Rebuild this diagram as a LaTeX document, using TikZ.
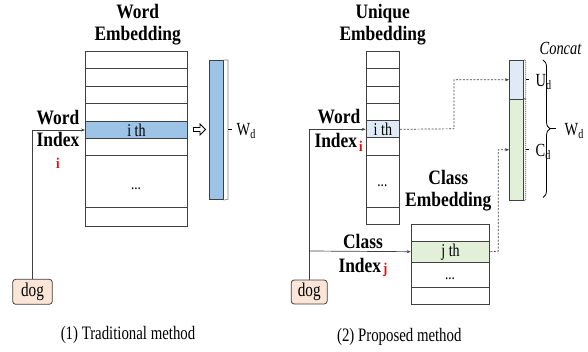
\documentclass[tikz,border=0pt]{standalone}
\usepackage{fontspec}
\setmainfont{Liberation Serif}[FakeStretch=0.85]
\newfontfamily\condreg{Liberation Serif}[FakeStretch=0.78]
\usetikzlibrary{shapes.arrows,decorations.pathreplacing,arrows.meta}
\definecolor{edge}{HTML}{404040}
\definecolor{blueA}{HTML}{9DC3E6}
\definecolor{blueL}{HTML}{DEEBF7}
\definecolor{greenL}{HTML}{E2F0D9}
\definecolor{peach}{HTML}{FBE5D6}
\definecolor{redT}{HTML}{FF0000}
\begin{document}
\begin{tikzpicture}[x=1pt,y=-1pt,
  cell/.style={draw=edge, line width=1pt, inner sep=0pt, anchor=north west, font=\condreg\fontsize{18}{18}\selectfont},
  ttl/.style={font=\bfseries\fontsize{20.5}{22}\selectfont, align=center, inner sep=0pt},
  lbl/.style={font=\condreg\fontsize{18.5}{18.5}\selectfont, inner sep=0pt},
  captxt/.style={font=\condreg\fontsize{19}{19}\selectfont, inner sep=0pt},
  dotstxt/.style={font=\condreg\fontsize{17}{17}\selectfont, inner sep=0pt},
  redidx/.style={font=\bfseries\fontsize{15}{15}\selectfont, text=redT, inner sep=0pt},
  wordbox/.style={draw=edge, line width=0.8pt, fill=peach, rounded corners=3pt, inner sep=0pt, font=\condreg\fontsize{19.5}{19.5}\selectfont},
  conn/.style={draw=edge, line width=0.7pt, -{Stealth[length=4pt,width=3pt]}},
  dconn/.style={draw=edge, line width=0.7pt, dash pattern=on 2pt off 1.5pt, -{Stealth[length=4pt,width=3pt]}},
  vecbox/.style={draw=edge, line width=0.8pt, inner sep=0pt, anchor=north west},
]
\useasboundingbox (0,0) rectangle (588,352);

% ---------------- (1) Traditional method ----------------
\node[ttl] (lttl) at (137.7,25) {Word\\Embedding};
\node[cell, minimum width=102pt, minimum height=17.5pt] (L1) at (85,51) {};
\node[cell, minimum width=102pt, minimum height=17.5pt] (L2) at (85,68.5) {};
\node[cell, minimum width=102pt, minimum height=17.5pt] (L3) at (85,86) {};
\node[cell, minimum width=102pt, minimum height=17.5pt] (L4) at (85,103.5) {};
\node[cell, minimum width=102pt, minimum height=17pt, fill=blueA] (Lith) at (85,121) {i th};
\node[cell, minimum width=102pt, minimum height=17.5pt] (L6) at (85,138) {};
\node[cell, minimum width=102pt, minimum height=51.5pt] (L7) at (85,155.5) {};
\node[cell, minimum width=102pt, minimum height=19pt] (L8) at (85,207) {};
\node[dotstxt] (ldots) at (136,189) {...};

\node[single arrow, draw=black, line width=0.8pt, fill=white, minimum height=12pt, minimum width=11pt, single arrow head extend=2.5pt, inner sep=1pt] (harrow) at (198.5,129.5) {};

\node[vecbox, fill=blueA, minimum width=13.4pt, minimum height=139.3pt] (Wvec) at (209.3,60) {};
\draw[draw=gray, line width=0.6pt] (Wvec.north east) -- (228,60) -- (228,199.3) -- (Wvec.south east);
\coordinate (wtick) at (228,129.6);
\draw[line width=1pt] (wtick) -- ++(4,0);
\node[lbl, anchor=west] (lWd) at (236.5,131) {W\textsubscript{d}};

\node[ttl] (lwi) at (58,128.5) {Word\\Index};
\node[redidx] (li) at (58,163) {i};

\node[wordbox, minimum width=39.6pt, minimum height=25pt] (dog1) at (32.5,291.8) {dog};
\draw[conn] (dog1.north) |- (Lith.west);

\node[captxt] (cap1) at (128,335) {(1) Traditional method};

% ---------------- (2) Proposed method ----------------
\node[ttl] (rttl) at (382.7,25) {Unique\\Embedding};
\node[cell, minimum width=33.3pt, minimum height=17.6pt] (U1) at (365.7,50.7) {};
\node[cell, minimum width=33.3pt, minimum height=17.4pt] (U2) at (365.7,68.3) {};
\node[cell, minimum width=33.3pt, minimum height=17pt] (U3) at (365.7,85.7) {};
\node[cell, minimum width=33.3pt, minimum height=17.6pt] (U4) at (365.7,102.7) {};
\node[cell, minimum width=33.3pt, minimum height=17pt, fill=blueL] (Uith) at (365.7,120.3) {i th};
\node[cell, minimum width=33.3pt, minimum height=17.7pt] (U6) at (365.7,137.3) {};
\node[cell, minimum width=33.3pt, minimum height=51.7pt] (U7) at (365.7,155) {};
\node[cell, minimum width=33.3pt, minimum height=17.3pt] (U8) at (365.7,206.7) {};
\node[dotstxt] (udots) at (382.4,186) {...};

\node[ttl] (cttl) at (448.3,191) {Class\\Embedding};
\node[cell, minimum width=78.6pt, minimum height=16.4pt] (C1) at (410.7,224.3) {};
\node[cell, minimum width=78.6pt, minimum height=21pt, fill=greenL] (Cjth) at (410.7,240.7) {j th};
\node[cell, minimum width=78.6pt, minimum height=25pt] (C3) at (410.7,261.7) {};
\node[cell, minimum width=78.6pt, minimum height=17.3pt] (C4) at (410.7,286.7) {};
\node[dotstxt] (cdots) at (450,279) {...};

% concatenated vector
\node[vecbox, fill=blueL, minimum width=14.3pt, minimum height=38.7pt] (Uvec) at (509,60) {};
\node[vecbox, fill=greenL, minimum width=14.3pt, minimum height=101.3pt] (Cvec) at (509,98.7) {};
\draw[draw=edge, line width=0.6pt, dash pattern=on 1pt off 1pt] (Uvec.north east) -- (525.7,60) -- (525.7,98.7) -- (Uvec.south east);
\draw[draw=edge, line width=0.6pt, dash pattern=on 1pt off 1pt] (Cvec.north east) -- (525.7,98.7) -- (525.7,200) -- (Cvec.south east);
\coordinate (utick) at (525.7,79.5);
\coordinate (ctick) at (525.7,149.3);
\draw[line width=0.8pt] (utick) -- ++(3.5,0);
\draw[line width=0.8pt] (ctick) -- ++(3.5,0);
\node[lbl, anchor=west] (Ud) at (535.5,82) {U\textsubscript{d}};
\node[lbl, anchor=west] (Cd) at (535.5,152) {C\textsubscript{d}};

\coordinate (btop) at (543,60);
\coordinate (bbot) at (543,197.5);
\draw[line width=0.8pt, decorate, decoration={brace, amplitude=7pt}] (btop) -- (bbot);
\draw[line width=0.8pt] (550.2,128.8) -- ++(6,0);
\node[lbl, anchor=west] (rWd) at (564.5,131) {W\textsubscript{d}};
\node[font=\condreg\itshape\fontsize{18.5}{18.5}\selectfont, inner sep=0pt] (concat) at (560.5,48) {Concat};

\node[ttl, anchor=east] (rword) at (360.5,117) {Word};
\node[ttl, anchor=west] (rindex) at (314.3,140) {Index};
\node[redidx, anchor=west] (ri) at (359,146.5) {i};

\node[ttl] (cword) at (363,241.7) {Class};
\node[ttl, anchor=west] (cindex) at (338.3,265) {Index};
\node[redidx, anchor=west] (rj) at (383,269.8) {j};

\node[wordbox, minimum width=36pt, minimum height=24pt] (dog2) at (309.2,292) {dog};
\coordinate (split) at (309.2,251);
\draw[conn] (dog2.north) |- (Uith.west);
\draw[conn] (split) -- (Cjth.west);

\coordinate (k1) at (454,128.8);
\coordinate (k2) at (498.3,251.2);
\draw[dconn] (Uith.east) -- (k1) |- (Uvec.west);
\draw[dconn] (Cjth.east) -- (k2) |- (Cvec.west);

\node[captxt] (cap2) at (399.3,336.5) {(2) Proposed method};
\end{tikzpicture}
\end{document}
